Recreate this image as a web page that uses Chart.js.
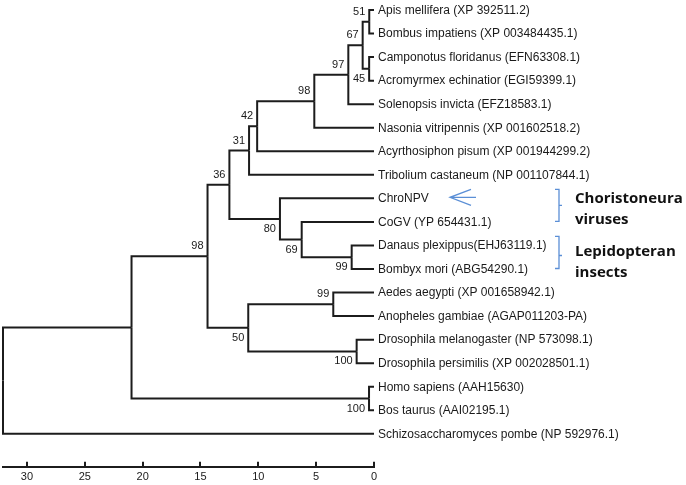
<!DOCTYPE html>
<html><head><meta charset="utf-8">
<script src="https://cdn.jsdelivr.net/npm/chart.js@4/dist/chart.umd.min.js"></script>
<style>html,body{margin:0;padding:0;background:#fff}canvas{display:block}</style>
</head><body>
<canvas id="c" width="686" height="485"></canvas>
<script>
const leafNames = [
 'Apis mellifera (XP 392511.2)',
 'Bombus impatiens (XP 003484435.1)',
 'Camponotus floridanus (EFN63308.1)',
 'Acromyrmex echinatior (EGI59399.1)',
 'Solenopsis invicta (EFZ18583.1)',
 'Nasonia vitripennis (XP 001602518.2)',
 'Acyrthosiphon pisum (XP 001944299.2)',
 'Tribolium castaneum (NP 001107844.1)',
 'ChroNPV',
 'CoGV (YP 654431.1)',
 'Danaus plexippus(EHJ63119.1)',
 'Bombyx mori (ABG54290.1)',
 'Aedes aegypti (XP 001658942.1)',
 'Anopheles gambiae (AGAP011203-PA)',
 'Drosophila melanogaster (NP 573098.1)',
 'Drosophila persimilis (XP 002028501.1)',
 'Homo sapiens (AAH15630)',
 'Bos taurus (AAI02195.1)',
 'Schizosaccharomyces pombe (NP 592976.1)'
];
const nodeChildren = [
 ['L0','L1'],   // N0
 ['L2','L3'],   // N1
 ['N0','N1'],   // N2
 ['N2','L4'],   // N3
 ['N3','L5'],   // N4
 ['N4','L6'],   // N5
 ['N5','L7'],   // N6
 ['L10','L11'], // N7
 ['L9','N7'],   // N8
 ['L8','N8'],   // N9
 ['N6','N9'],   // N10
 ['L12','L13'], // N11
 ['L14','L15'], // N12
 ['N11','N12'], // N13
 ['N10','N13'], // N14
 ['L16','L17'], // N15
 ['N14','N15'], // N16
 ['N16','L18']  // N17 root
];
const nodeHeights = [0.41,0.42,0.98,2.22,5.16,10.1,10.8,1.93,6.25,8.13,12.5,3.52,1.5,10.87,14.39,0.43,20.96,32.07];
const bootstrap = [51,45,67,97,98,42,31,99,69,80,36,99,100,50,98,100,null,null];
const tickValues = [0,5,10,15,20,25,30];
const groupNames = [['Choristoneura','viruses'],['Lepidopteran','insects']];
const groupLeaves = [[8,9],[10,11]];
const arrowLeaf = 8;

// ---- tree geometry in data units ----
const rootIndex = nodeChildren.length - 1;
const nodeY = [];
function yOf(id){
  if(id[0]==='L') return +id.slice(1);
  const i = +id.slice(1);
  if(nodeY[i]===undefined){
    const ch = nodeChildren[i];
    nodeY[i] = (yOf(ch[0]) + yOf(ch[ch.length-1]))/2;
  }
  return nodeY[i];
}
function xOf(id){ return id[0]==='L' ? 0 : nodeHeights[+id.slice(1)]; }
yOf('N'+rootIndex);

const datasets = [];
nodeChildren.forEach((ch,i)=>{
  ch.forEach(c=>{
    datasets.push({
      data:[{x:nodeHeights[i],y:nodeY[i]},{x:nodeHeights[i],y:yOf(c)},{x:xOf(c),y:yOf(c)}],
      showLine:true, pointRadius:0, borderColor:'#1c1c1c', borderWidth:2,
      borderJoinStyle:'miter', borderCapStyle:'butt', tension:0, clip:false, fill:false
    });
  });
});

const labelPlugin = {
  id:'treeLabels',
  afterDatasetsDraw(chart){
    const ctx = chart.ctx, xs = chart.scales.x, ys = chart.scales.y;
    ctx.save();
    // leaf names
    ctx.fillStyle = '#1a1a1a';
    ctx.font = '12px "Liberation Sans", Arial, sans-serif';
    ctx.textAlign = 'left'; ctx.textBaseline = 'middle';
    const tipX = xs.getPixelForValue(0);
    leafNames.forEach((n,i)=>{ ctx.fillText(n, tipX+4, ys.getPixelForValue(i)+0.5); });
    // bootstrap values
    ctx.font = '11px "Liberation Sans", Arial, sans-serif';
    ctx.textAlign = 'right';
    bootstrap.forEach((b,i)=>{
      if(b===null) return;
      const id = 'N'+i;
      const p = nodeChildren.findIndex(ch=>ch.includes(id));
      const first = p>=0 && nodeChildren[p][0]===id;
      const px = xs.getPixelForValue(nodeHeights[i]) - 4;
      const py = ys.getPixelForValue(nodeY[i]) + (first ? -10 : 10);
      ctx.fillText(String(b), px, py);
    });
    // annotations
    const blue = '#5b8fd6';
    ctx.strokeStyle = blue; ctx.lineWidth = 1.3;
    const bx = 559;
    groupLeaves.forEach((g,k)=>{
      const y0 = ys.getPixelForValue(g[0]) - 9;
      const y1 = ys.getPixelForValue(g[1]) - 0.5;
      const ym = (y0+y1)/2 + (k===1?3:0);
      ctx.beginPath();
      ctx.moveTo(bx-4,y0); ctx.lineTo(bx,y0); ctx.lineTo(bx,y1); ctx.lineTo(bx-4,y1);
      ctx.moveTo(bx,ym); ctx.lineTo(bx+3,ym);
      ctx.stroke();
    });
    // arrow
    const ay = ys.getPixelForValue(arrowLeaf) - 1;
    ctx.beginPath();
    ctx.moveTo(471, ay-8); ctx.lineTo(450, ay); ctx.lineTo(471, ay+8);
    ctx.moveTo(450, ay); ctx.lineTo(476, ay);
    ctx.stroke();
    // group text
    ctx.fillStyle = '#111';
    ctx.font = 'bold 15px "Open Sans", "Noto Sans", sans-serif';
    ctx.textAlign = 'left'; ctx.textBaseline = 'alphabetic';
    const baseOff = [4.5, 10.5];
    groupNames.forEach((lines,k)=>{
      const yb = ys.getPixelForValue(groupLeaves[k][0]) + baseOff[k];
      lines.forEach((t,j)=>ctx.fillText(t, 575, yb + j*21));
    });
    ctx.restore();
  }
};

new Chart(document.getElementById('c'), {
  type:'scatter',
  data:{datasets},
  options:{
    responsive:false, animation:false, devicePixelRatio:1,
    layout:{padding:{left:3,right:312,top:0,bottom:-8}},
    plugins:{legend:{display:false},tooltip:{enabled:false}},
    scales:{
      x:{type:'linear', reverse:true, min:0, max:nodeHeights[rootIndex], position:'bottom',
         afterBuildTicks:(s)=>{ s.ticks = tickValues.map(v=>({value:v})); },
         grid:{display:true, drawOnChartArea:false, drawTicks:true, tickLength:-5, color:'#1c1c1c', lineWidth:2},
         border:{display:true, color:'#1c1c1c', width:2},
         ticks:{color:'#1a1a1a', padding:9, maxRotation:0, autoSkip:false,
                font:{family:'"Liberation Sans", Arial, sans-serif', size:11}}},
      y:{type:'linear', display:false, reverse:true, min:-0.424, max:19.4}
    }
  },
  plugins:[labelPlugin]
});
</script>
</body></html>
